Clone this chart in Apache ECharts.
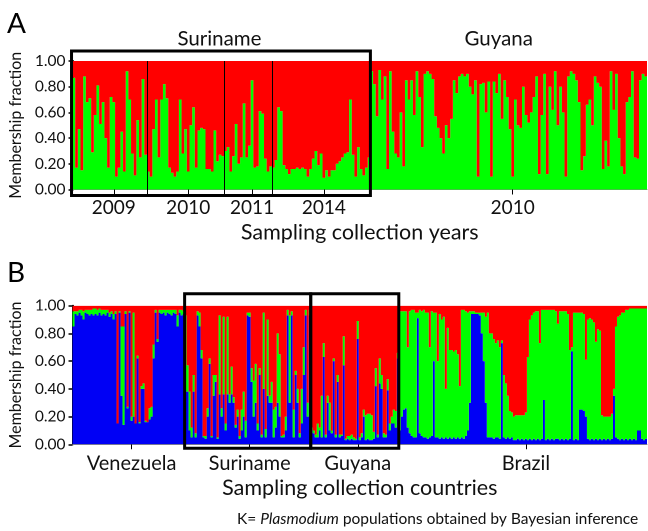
<!DOCTYPE html>
<html><head><meta charset="utf-8">
<script src="https://cdn.jsdelivr.net/npm/echarts@6/dist/echarts.min.js"></script>
<style>html,body{margin:0;padding:0;background:#fff}#c{width:648px;height:531px}</style>
</head><body><div id="c"></div>
<script>
// ---------- Panel A : Suriname (by year) + Guyana, K=2 ----------
const aYearLabels = ['2009','2010','2011','2014','2010'];
const aSections = ['Suriname','Guyana'];
const green2009 = [.87,.17,.47,.15,.88,.68,.71,.29,.58,.81,.51,.68,.40,.17,.72,.68,.10,.17,.45,.14,.92,.70,.28,.11,.54,.25,.86,.27];
const red2009   = [.13,.83,.53,.85,.12,.32,.29,.71,.42,.19,.49,.32,.60,.83,.28,.32,.90,.83,.55,.86,.08,.30,.72,.89,.46,.75,.14,.73];
const green2010 = [.14,.10,.47,.70,.25,.70,.82,.71,.17,.13,.10,.14,.70,.28,.47,.14,.50,.64,.17,.46,.48,.47,.16,.16,.14,.46,.22,.27,.26];
const red2010   = [.86,.90,.53,.30,.75,.30,.18,.29,.83,.87,.90,.86,.30,.72,.53,.86,.50,.36,.83,.54,.52,.53,.84,.84,.86,.54,.78,.73,.74];
const green2011 = [.30,.33,.14,.26,.51,.20,.25,.67,.25,.34,.85,.17,.18,.61,.59,.24,.14,.18];
const red2011   = [.70,.67,.86,.74,.49,.80,.75,.33,.75,.66,.15,.83,.82,.39,.41,.76,.86,.82];
const green2014 = [.17,.23,.64,.61,.19,.16,.12,.16,.16,.17,.16,.17,.16,.10,.16,.24,.30,.19,.28,.09,.15,.10,.15,.15,.20,.22,.25,.28,.29,.70,.27,.10,.33,.16,.11,.17,.25];
const red2014   = [.83,.77,.36,.39,.81,.84,.88,.84,.84,.83,.84,.83,.84,.90,.84,.76,.70,.81,.72,.91,.85,.90,.85,.85,.80,.78,.75,.72,.71,.30,.73,.90,.67,.84,.89,.83,.75];
const greenGuyA = [.92,.82,.57,.93,.70,.88,.16,.92,.45,.28,.25,.60,.18,.85,.70,.85,.58,.92,.72,.33,.90,.92,.90,.86,.57,.48,.40,.28,.50,.40,.55,.85,.75,.88,.90,.88,.90,.80,.74,.85,.10,.82,.83,.60,.84,.10,.84,.75,.90,.55,.85,.72,.47,.10,.70,.50,.48,.80,.58,.52,.60,.72,.88,.12,.58,.90,.12,.80,.62,.92,.50,.80,.60,.10,.88,.92,.90,.85,.68,.15,.26,.66,.70,.50,.88,.83,.80,.16,.38,.18,.92,.62,.90,.40,.18,.12,.68,.72,.92,.25,.24,.85,.90,.88];
const redGuyA   = [.08,.18,.43,.07,.30,.12,.84,.08,.55,.72,.75,.40,.82,.15,.30,.15,.42,.08,.28,.67,.10,.08,.10,.14,.43,.52,.60,.72,.50,.60,.45,.15,.25,.12,.10,.12,.10,.20,.26,.15,.90,.18,.17,.40,.16,.90,.16,.25,.10,.45,.15,.28,.53,.90,.30,.50,.52,.20,.42,.48,.40,.28,.12,.88,.42,.10,.88,.20,.38,.08,.50,.20,.40,.90,.12,.08,.10,.15,.32,.85,.74,.34,.30,.50,.12,.17,.20,.84,.62,.82,.08,.38,.10,.60,.82,.88,.32,.28,.08,.75,.76,.15,.10,.12];

// ---------- Panel B : countries, K=3 ----------
const bCountries = ['Venezuela','Suriname','Guyana','Brazil'];
const venBlue  = [.85,.94,.93,.95,.93,.90,.95,.94,.93,.94,.93,.94,.93,.95,.93,.94,.93,.95,.92,.94,.90,.94,.15,.95,.35,.14,.94,.26,.95,.17,.20,.15,.62,.15,.40,.40,.16,.16,.18,.20,.62,.95,.74,.95,.94,.95,.93,.95,.94,.93,.95,.94,.85,.95,.93,.94];
const venGreen = [.11,.02,.03,.02,.04,.06,.02,.03,.04,.03,.05,.04,.04,.03,.04,.03,.04,.02,.03,.02,.04,.02,.00,.01,.50,.71,.02,.01,.01,.03,.75,.00,.02,.01,.02,.04,.01,.00,.08,.07,.10,.02,.02,.02,.03,.02,.04,.02,.03,.04,.02,.03,.08,.02,.04,.02];
const venRed   = [.04,.04,.04,.03,.03,.04,.03,.03,.03,.03,.02,.02,.03,.02,.03,.03,.03,.03,.05,.04,.06,.04,.85,.04,.15,.15,.04,.73,.04,.80,.05,.85,.36,.84,.58,.56,.83,.84,.74,.73,.28,.03,.24,.03,.03,.03,.03,.03,.03,.03,.03,.03,.07,.03,.03,.04];
const surBlue  = [.38,.38,.10,.05,.38,.05,.93,.85,.62,.05,.04,.20,.58,.05,.35,.45,.04,.36,.20,.36,.10,.36,.30,.36,.30,.12,.20,.04,.10,.20,.05,.93,.92,.45,.20,.30,.10,.50,.05,.40,.05,.35,.30,.30,.05,.12,.30,.20,.05,.05,.10,.93,.30,.93,.05,.50,.30,.05,.15,.50,.93,.20,.93];
const surGreen = [.55,.19,.28,.07,.12,.03,.03,.10,.06,.01,.02,.06,.04,.01,.15,.05,.01,.57,.06,.56,.05,.56,.06,.20,.04,.02,.05,.02,.15,.18,.12,.02,.03,.10,.26,.28,.05,.05,.02,.55,.06,.55,.05,.15,.20,.15,.50,.45,.01,.02,.10,.04,.63,.03,.20,.03,.10,.03,.25,.20,.04,.10,.04];
const surRed   = [.07,.43,.62,.88,.50,.92,.04,.05,.32,.94,.94,.74,.38,.94,.50,.50,.95,.07,.74,.08,.85,.08,.64,.44,.66,.86,.75,.94,.75,.62,.83,.05,.05,.45,.54,.42,.85,.45,.93,.05,.89,.10,.65,.55,.75,.73,.20,.35,.94,.93,.80,.03,.07,.04,.75,.47,.60,.92,.60,.30,.03,.70,.03];
const guyBlue  = [.10,.08,.05,.05,.10,.05,.63,.05,.30,.10,.08,.60,.05,.45,.05,.06,.57,.03,.04,.03,.04,.03,.03,.76,.03,.05,.20,.03,.04,.03,.03,.04,.42,.05,.44,.40,.05,.05,.39,.10,.15,.15,.12,.62];
const guyGreen = [.02,.02,.02,.10,.02,.30,.10,.02,.05,.20,.02,.02,.02,.05,.02,.01,.21,.01,.02,.03,.03,.02,.01,.13,.02,.03,.05,.18,.18,.19,.18,.05,.13,.02,.18,.10,.03,.02,.08,.05,.05,.10,.12,.04];
const guyRed   = [.88,.90,.93,.85,.88,.65,.27,.93,.65,.70,.90,.38,.93,.50,.93,.93,.22,.96,.94,.94,.93,.95,.96,.11,.95,.92,.75,.79,.78,.78,.79,.91,.45,.93,.38,.50,.92,.93,.53,.85,.80,.75,.76,.34];
const braBlue  = [.10,.20,.25,.26,.12,.08,.06,.05,.05,.91,.08,.06,.05,.05,.04,.05,.06,.60,.05,.05,.04,.05,.04,.05,.04,.05,.04,.05,.04,.05,.04,.05,.04,.06,.10,.30,.94,.94,.94,.94,.93,.80,.60,.30,.05,.05,.05,.04,.05,.05,.04,.73,.05,.04,.05,.04,.05,.03,.03,.04,.03,.04,.03,.04,.03,.04,.03,.04,.03,.04,.03,.04,.32,.03,.04,.03,.04,.03,.04,.04,.03,.04,.03,.04,.03,.04,.67,.03,.04,.03,.25,.25,.24,.20,.04,.03,.04,.03,.04,.03,.04,.03,.04,.03,.04,.03,.04,.35,.05,.04,.03,.04,.03,.04,.03,.04,.03,.04,.03,.10,.10,.04,.03,.04];
const braGreen = [.86,.76,.71,.70,.58,.88,.91,.92,.90,.04,.89,.90,.92,.90,.91,.65,.90,.35,.90,.55,.90,.85,.88,.35,.80,.63,.64,.62,.64,.60,.38,.92,.93,.90,.85,.66,.02,.02,.01,.01,.02,.15,.35,.62,.90,.75,.75,.72,.68,.70,.66,.02,.45,.40,.30,.20,.18,.17,.18,.17,.18,.17,.18,.19,.60,.86,.90,.91,.93,.92,.70,.93,.65,.94,.93,.94,.93,.94,.92,.83,.93,.92,.93,.92,.91,.64,.03,.92,.91,.92,.70,.70,.70,.41,.86,.88,.86,.85,.70,.80,.78,.18,.16,.17,.16,.17,.18,.05,.80,.88,.90,.91,.92,.93,.94,.94,.95,.94,.95,.88,.88,.94,.95,.94];
const braRed   = [.04,.04,.04,.04,.30,.04,.03,.03,.05,.05,.03,.04,.03,.05,.05,.30,.04,.05,.05,.40,.06,.10,.08,.60,.16,.32,.32,.33,.32,.35,.58,.03,.03,.04,.05,.04,.04,.04,.05,.05,.05,.05,.05,.08,.05,.20,.20,.24,.27,.25,.30,.25,.50,.56,.65,.76,.77,.80,.79,.79,.79,.79,.79,.77,.37,.10,.07,.05,.04,.04,.27,.03,.03,.03,.03,.03,.03,.03,.04,.13,.04,.04,.04,.04,.06,.32,.30,.05,.05,.05,.05,.05,.06,.39,.10,.09,.10,.12,.26,.17,.18,.79,.80,.80,.80,.80,.78,.60,.15,.08,.07,.05,.05,.03,.03,.02,.02,.02,.02,.02,.02,.02,.02,.02];
const yTicks = [0, 0.2, 0.4, 0.6, 0.8, 1.0];

// ---------- assemble ----------
const aGreenGroups = [green2009, green2010, green2011, green2014, greenGuyA];
const aRedGroups   = [red2009, red2010, red2011, red2014, redGuyA];
const aGreen = [].concat(...aGreenGroups);
const aRed   = [].concat(...aRedGroups);
const aSizes = aGreenGroups.map(g => g.length);
const aSectionSizes = [aSizes[0]+aSizes[1]+aSizes[2]+aSizes[3], aSizes[4]];
const bBlue  = [].concat(venBlue, surBlue, guyBlue, braBlue);
const bGreen = [].concat(venGreen, surGreen, guyGreen, braGreen);
const bRed   = [].concat(venRed, surRed, guyRed, braRed);
const bSizes = [venBlue.length, surBlue.length, guyBlue.length, braBlue.length];

function starts(sizes){ const o=[]; let s=0; sizes.forEach(n=>{o.push(s); s+=n;}); return o; }
function labelMap(sizes, labels){ const m={}; const st=starts(sizes); sizes.forEach((n,k)=>{ m[st[k]+Math.floor(n/2)+1]=labels[k]; }); return m; }
const aLab = labelMap(aSizes, aYearLabels);
const bLab = labelMap(bSizes, bCountries);

const FONT = 'Lato, "Open Sans", sans-serif';
const TXT = '#111';
const RED='#ff0000', GREEN='#00ff00', BLUE='#0000f5';

function yAx(gi){ return {type:'value', gridIndex:gi, min:yTicks[0], max:yTicks[yTicks.length-1], interval:0.2,
  name:'Membership fraction', nameLocation:'middle', nameGap:42, nameRotate:90,
  nameTextStyle:{fontFamily:FONT, fontSize:16, color:TXT},
  axisLine:{show:true, lineStyle:{color:'#000', width:2}},
  axisTick:{show:true, length:4, lineStyle:{color:'#000', width:1.5}},
  axisLabel:{fontFamily:FONT, fontSize:15.5, color:TXT, margin:7, formatter:v=>v.toFixed(2)},
  splitLine:{show:false}}; }
function xAx(gi, n, lab, name, gap, fs){ return {type:'category', gridIndex:gi,
  data:Array.from({length:n},(_,i)=>'#'+(i+1)), boundaryGap:true,
  name:name, nameLocation:'middle', nameGap:gap, nameTextStyle:{fontFamily:FONT, fontSize:21.5, color:TXT},
  axisLine:{show:true, lineStyle:{color:'#888', width:1}},
  axisTick:{show:true, alignWithLabel:true, interval:(i)=>(i in lab), length:5, lineStyle:{color:'#000', width:1}},
  axisLabel:{show:true, interval:(i)=>(i in lab), formatter:(v,i)=>lab[i]||'', fontFamily:FONT, fontSize:fs, color:TXT, margin:9}}; }
function bar(name, data, xi, stack, color){ return {type:'bar', name, data, xAxisIndex:xi, yAxisIndex:xi, stack,
  large:true, largeThreshold:20,
  barCategoryGap:'0%', itemStyle:{color, borderWidth:0}, emphasis:{disabled:true}, silent:true}; }

const chart = echarts.init(document.getElementById('c'), null, {renderer:'canvas', devicePixelRatio:2});
chart.setOption({
  animation:false,
  backgroundColor:'#fff',
  grid:[{left:72, right:1, top:61, height:128.5},{left:72, right:1, top:305.7, height:138.6}],
  xAxis:[xAx(0, aGreen.length, aLab, 'Sampling collection years', 32, 19), xAx(1, bBlue.length, bLab, 'Sampling collection countries', 33, 20)],
  yAxis:[yAx(0), yAx(1)],
  series:[
    bar('green', aGreen, 0, 'a', GREEN), bar('red', aRed, 0, 'a', RED),
    bar('blue', bBlue, 1, 'b', BLUE), bar('green', bGreen, 1, 'b', GREEN), bar('red', bRed, 1, 'b', RED)
  ]
});

// annotations derived from the axes
function xp(ax, i){ return chart.convertToPixel({xAxisIndex:ax}, i); }
function yp(ax, v){ return chart.convertToPixel({yAxisIndex:ax}, v); }
function bnd(ax, i){ const w = xp(ax,1)-xp(ax,0); return xp(ax, i) - w/2; }
const g = [];
const aTop = yp(0,1), aBot = yp(0,0), bTop = yp(1,1), bBot = yp(1,0);
// Panel A box around Suriname
g.push({type:'rect', z:100, shape:{x:bnd(0,0)-1, y:aTop-10, width:bnd(0,aSectionSizes[0])-bnd(0,0)+1, height:aBot+6-(aTop-10)}, style:{fill:'none', stroke:'#000', lineWidth:3}});
// year separators
const aSt = starts(aSizes);
[1,2,3].forEach(k=>{ const x = Math.round(bnd(0, aSt[k]))+0.5; g.push({type:'line', z:99, shape:{x1:x, y1:aTop, x2:x, y2:aBot+5}, style:{stroke:'#000', lineWidth:1}}); });
// Section titles
const secSt = starts(aSectionSizes);
aSections.forEach((s,k)=>{ const cx=(bnd(0,secSt[k])+bnd(0,secSt[k]+aSectionSizes[k]))/2 - (k===1?10:2);
  g.push({type:'text', z:100, x:cx, y:39, style:{text:s, font:'20.5px '+FONT, fill:TXT, textAlign:'center', textVerticalAlign:'middle'}}); });
// Panel B boxes (Suriname, Guyana)
const bSt = starts(bSizes);
[1,2].forEach(k=>{ const x0=bnd(1,bSt[k]), x1=bnd(1,bSt[k]+bSizes[k]);
  g.push({type:'rect', z:100, shape:{x:x0, y:bTop-12, width:x1-x0, height:bBot+4-(bTop-12)}, style:{fill:'none', stroke:'#000', lineWidth:3}}); });
// panel letters
g.push({type:'text', z:100, x:7, y:24, style:{text:'A', font:'28px '+FONT, fill:'#000', textVerticalAlign:'middle'}});
g.push({type:'text', z:100, x:7, y:273, style:{text:'B', font:'28px '+FONT, fill:'#000', textVerticalAlign:'middle'}});
// footnote
g.push({type:'text', z:100, x:237, y:519, style:{text:'{n|K= }{i|Plasmodium}{n| populations obtained by Bayesian inference}',
  rich:{n:{fontFamily:FONT, fontSize:15.5, fill:TXT, color:TXT}, i:{fontFamily:FONT, fontSize:15.5, fontStyle:'italic', fill:TXT, color:TXT}},
  textVerticalAlign:'middle'}});
chart.setOption({graphic:g});
</script></body></html>
